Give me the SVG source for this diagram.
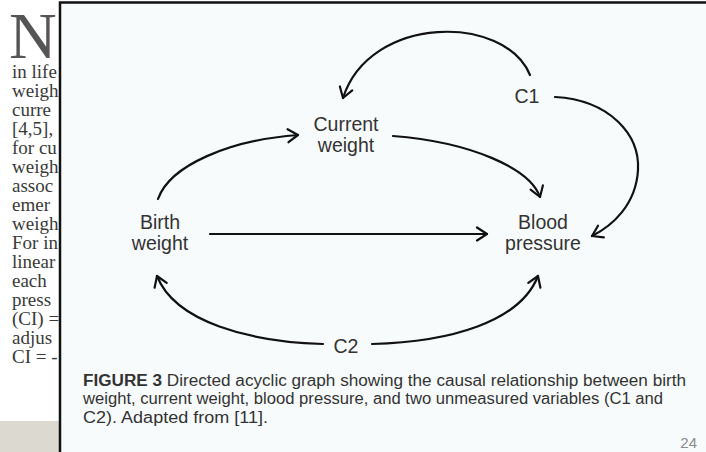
<svg xmlns="http://www.w3.org/2000/svg" width="706" height="452" viewBox="0 0 706 452">
<style>
.pg{font-family:"Liberation Serif","Times New Roman",serif;font-size:19px;fill:#3a3a3a}
.lbl{font-family:"Liberation Sans",Arial,sans-serif;font-size:19.5px;fill:#333;text-anchor:middle}
.cap{font-family:"Liberation Sans",Arial,sans-serif;font-size:16px;fill:#333}
.edge{fill:none;stroke:#111;stroke-width:2.2;stroke-linecap:round;marker-end:url(#ah)}
</style>
<defs>
<marker id="ah" markerUnits="userSpaceOnUse" markerWidth="16" markerHeight="16" viewBox="0 0 16 16" refX="13" refY="8" orient="auto">
<path d="M3,1.5 L13,8 L3,14.5" fill="none" stroke="#111" stroke-width="2.2" stroke-linecap="round" stroke-linejoin="round"/>
</marker>
</defs>
<rect x="0" y="0" width="706" height="452" fill="#ffffff"/>
<rect x="0" y="421" width="62" height="31" fill="#dcdad0"/>
<g id="page-text">
<text x="9" y="58" style="font-family:'Liberation Serif','Times New Roman',serif;font-size:66px;fill:#555">N</text>
<text class="pg" x="12" y="78">in life</text>
<text class="pg" x="12" y="97">weigh</text>
<text class="pg" x="12" y="116">curre</text>
<text class="pg" x="12" y="135">[4,5],</text>
<text class="pg" x="12" y="154">for cu</text>
<text class="pg" x="12" y="173">weigh</text>
<text class="pg" x="12" y="192">assoc</text>
<text class="pg" x="12" y="211">emer</text>
<text class="pg" x="12" y="230">weigh</text>
<text class="pg" x="12" y="249">For in</text>
<text class="pg" x="12" y="268">linear</text>
<text class="pg" x="12" y="287">each</text>
<text class="pg" x="12" y="306">press</text>
<text class="pg" x="12" y="325">(CI) =</text>
<text class="pg" x="12" y="344">adjus</text>
<text class="pg" x="12" y="363">CI = -</text>
</g>
<rect id="panel" x="60" y="2.5" width="660" height="460" fill="#f8fbfc" stroke="#111" stroke-width="2.5"/>
<g id="connectors">
<path class="edge" d="M158,199 C170,165 230,140 298,135"/>
<path class="edge" d="M393,136 C470,142 530,168 540,197"/>
<path class="edge" d="M530,75 C505,14 370,14 343,98"/>
<path class="edge" d="M555,97 C610,100 640,135 638,170 C636,205 612,226 592,236"/>
<path class="edge" d="M210,234 L487,234"/>
<path class="edge" d="M323,344 C250,342 175,322 157,276"/>
<path class="edge" d="M372,344 C450,342 520,322 538,276"/>
</g>
<g id="node-current"><text class="lbl" x="346" y="131">Current</text><text class="lbl" x="346" y="152">weight</text></g>
<g id="node-c1"><text class="lbl" x="527" y="103">C1</text></g>
<g id="node-birth"><text class="lbl" x="160" y="229">Birth</text><text class="lbl" x="160" y="250">weight</text></g>
<g id="node-bp"><text class="lbl" x="543" y="229">Blood</text><text class="lbl" x="543" y="250">pressure</text></g>
<g id="node-c2"><text class="lbl" x="346" y="353">C2</text></g>
<g id="caption">
<text class="cap" x="83" y="386" textLength="603" lengthAdjust="spacingAndGlyphs"><tspan font-weight="bold">FIGURE 3</tspan> Directed acyclic graph showing the causal relationship between birth</text>
<text class="cap" x="83" y="404" textLength="580" lengthAdjust="spacingAndGlyphs">weight, current weight, blood pressure, and two unmeasured variables (C1 and</text>
<text class="cap" x="83" y="423" textLength="185" lengthAdjust="spacingAndGlyphs">C2). Adapted from [11].</text>
<text x="697" y="448" text-anchor="end" style="font-family:'Liberation Sans',Arial,sans-serif;font-size:15px;fill:#8a8a8a">24</text>
</g>
</svg>
